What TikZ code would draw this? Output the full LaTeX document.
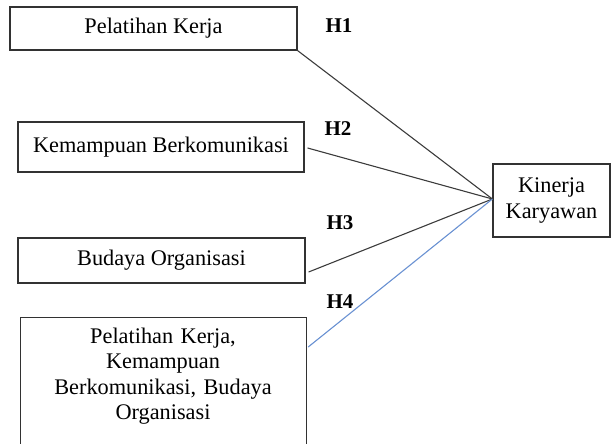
\documentclass[tikz,border=0pt]{standalone}
\usepackage{fontspec}
\setmainfont{Liberation Serif}
\usetikzlibrary{calc}
\definecolor{boxline}{RGB}{50,50,50}
\definecolor{linkgray}{RGB}{60,60,60}
\definecolor{linkblue}{RGB}{105,145,210}
\begin{document}
\begin{tikzpicture}[x=1pt,y=-1pt,
  box/.style={draw=boxline, line width=1.2pt, inner sep=0pt, align=center,
    font=\fontsize{22.3}{25.5}\selectfont},
  boxtext/.style={inner sep=0pt, align=center, font=\fontsize{22.3}{25.5}\selectfont},
  lab/.style={font=\fontsize{21}{24}\selectfont\bfseries, inner sep=0pt},
  link/.style={draw=linkgray, line width=1.1pt},
  bluelink/.style={draw=linkblue, line width=1.1pt}]
\useasboundingbox (0,0) rectangle (611,444);
\clip (0,0) rectangle (611,444);
\node[box, minimum width=287pt, minimum height=43pt] (b1) at (153.5,28.5) {Pelatihan Kerja};
\node[box, minimum width=286pt, minimum height=50pt] (b2) at (161,147) {Kemampuan Berkomunikasi};
\node[box, minimum width=287pt, minimum height=45pt] (b3) at (161.5,260.5) {Budaya Organisasi};
\node[box, anchor=north west, minimum width=286pt, minimum height=150pt] (b4) at (20,317) {};
\node[boxtext, anchor=north, text width=270pt] (b4t) at (163,327.5)
  {Pelatihan Kerja,\\Kemampuan\\Berkomunikasi, Budaya\\Organisasi};
\node[box, minimum width=117pt, minimum height=73pt] (k) at (551.5,200.5) {Kinerja\\Karyawan};
\node[lab] (h1) at (339,26) {H1};
\node[lab] (h2) at (338,129) {H2};
\node[lab] (h3) at (340,223) {H3};
\node[lab] (h4) at (340,302) {H4};
\coordinate (meet) at ([yshift=1.5pt]k.west);
\draw[link] (b1.south east) -- (meet);
\draw[link] ([xshift=3pt,yshift=-1pt]b2.east) -- (meet);
\draw[link] ([xshift=3pt,yshift=-11.5pt]b3.east) -- (meet);
\draw[bluelink] ([xshift=1pt,yshift=-30pt]b4.north east) -- (meet);
\end{tikzpicture}
\end{document}
